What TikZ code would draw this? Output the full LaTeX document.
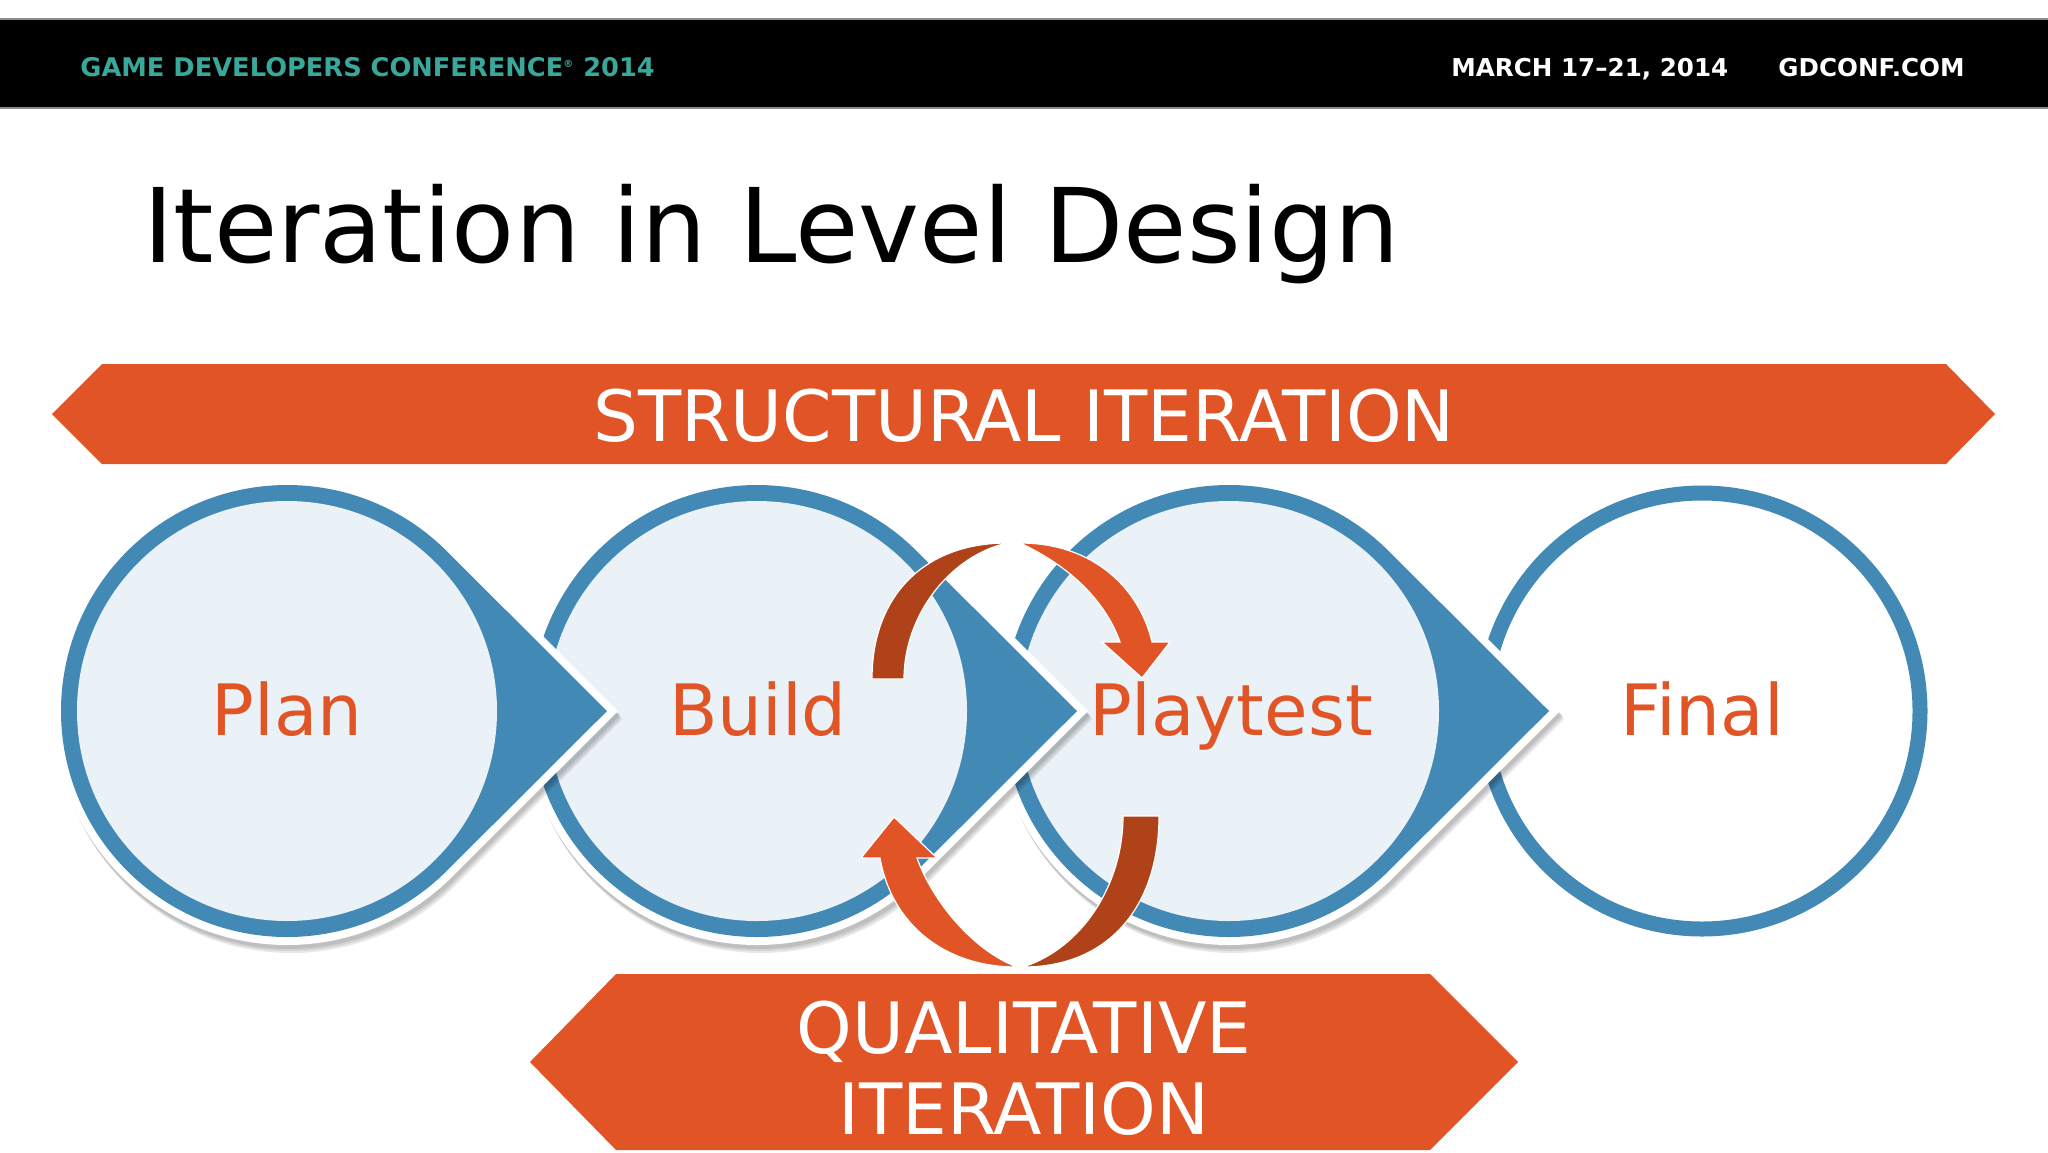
\documentclass[tikz,border=0pt]{standalone}
\usepackage{fontspec}
\setmainfont{DejaVu Sans}
\usetikzlibrary{calc}
\definecolor{gdcorange}{HTML}{E05426}
\definecolor{gdcdark}{HTML}{B04219}
\definecolor{gdcblue}{HTML}{4389B5}
\definecolor{gdclight}{HTML}{EAF1F7}
\definecolor{gdcteal}{HTML}{3AA79B}
\tikzset{
    barlabel/.style={font=\bfseries\fontsize{12.3}{16}\selectfont, anchor=base west, inner sep=0},
    banner/.style={fill=gdcorange},
    bannerlabel/.style={font=\fontsize{35.4}{40.5}\selectfont, text=white, align=center, inner sep=0},
    steplabel/.style={font=\fontsize{35.4}{40}\selectfont, text=gdcorange, inner sep=0, anchor=base},
    turn/.style={draw=white, line width=.6pt}
}
\begin{document}
\begin{tikzpicture}[x=.5pt, y=-.5pt]
        \useasboundingbox (0, 0) rectangle (2048, 1152);
        \fill[white] (0, 0) rectangle (2048, 1152);
        % top bar
        \fill[black!45] (0, 18) rectangle (2048, 109);
        \fill[black] (0, 20) rectangle (2048, 107);
        \node[barlabel, font=\bfseries\fontsize{12.85}{16}\selectfont, text=gdcteal] (conf) at (80, 76)
            {GAME DEVELOPERS CONFERENCE\textsuperscript{\tiny ®} 2014};
        \node[barlabel, text=white] (date) at (1451, 76) {MARCH 17–21, 2014};
        \node[barlabel, text=white] (site) at (1778, 76) {GDCONF.COM};
        \node[font=\fontsize{51.5}{60}\selectfont, anchor=base west, inner sep=0] (title)
            at (143, 262) {Iteration in Level Design};
        % banners
        \fill[banner] (52, 414) -- (102, 364) -- (1946, 364) -- (1995, 414)
            -- (1946, 464) -- (102, 464) -- cycle;
        \node[bannerlabel] (structural) at (1024, 416) {STRUCTURAL ITERATION};
        \fill[banner] (530, 1062) -- (616, 974) -- (1430, 974) -- (1518, 1062)
            -- (1430, 1150) -- (616, 1150) -- cycle;
        \node[bannerlabel] (qualitative) at (1024, 1068) {QUALITATIVE\\ITERATION};
        % circles, last one first
        \draw[gdcblue, line width=7.5pt, fill=white] (1702, 711) circle (218);
        \foreach \cx in {1229, 757, 287} {
            \begin{scope}[shift={(\cx, 711)}]
                \foreach \dy in {4, 6, 8} {
                    \fill[black, opacity=.09] ([shift={(\dy/2, \dy)}]45:234) arc[start angle=45, end angle=315, radius=234]
                        -- ([shift={(\dy/2, \dy)}]0:331) -- cycle;
                }
                \fill[white] (45:234) arc[start angle=45, end angle=315, radius=234]
                    -- (0:331) -- cycle;
                \fill[gdcblue] (45:226) arc[start angle=45, end angle=315, radius=226]
                    -- (0:320) -- cycle;
                \fill[gdclight] (0, 0) circle (210);
            \end{scope}
        }
        \node[steplabel] (plan) at (287, 735) {Plan};
        \node[steplabel] (build) at (758, 735) {Build};
        \node[steplabel] (playtest) at (1231, 735) {Playtest};
        \node[steplabel] (final) at (1702, 735) {Final};
        % turning arrows
        \fill[gdcdark, turn] (872, 679) .. controls (872, 595) and (925, 543) .. (1007, 543)
            .. controls (950, 556) and (904, 615) .. (904, 679) -- cycle;
        \fill[gdcorange, turn] (1020, 543) .. controls (1095, 543) and (1140, 590) .. (1152, 642)
            -- (1170, 642) -- (1142, 678) -- (1102, 642) -- (1120, 642)
            .. controls (1108, 608) and (1078, 570) .. (1020, 543) -- cycle;
        \fill[gdcdark, turn] (1159, 816) .. controls (1159, 905) and (1110, 967) .. (1023, 967)
            .. controls (1082, 948) and (1123, 885) .. (1123, 816) -- cycle;
        \fill[gdcorange, turn] (1017, 967) .. controls (945, 967) and (892, 925) .. (880, 858)
            -- (861, 858) -- (894, 817) -- (937, 858) -- (917, 858)
            .. controls (932, 900) and (972, 950) .. (1017, 967) -- cycle;
\end{tikzpicture}
\end{document}
